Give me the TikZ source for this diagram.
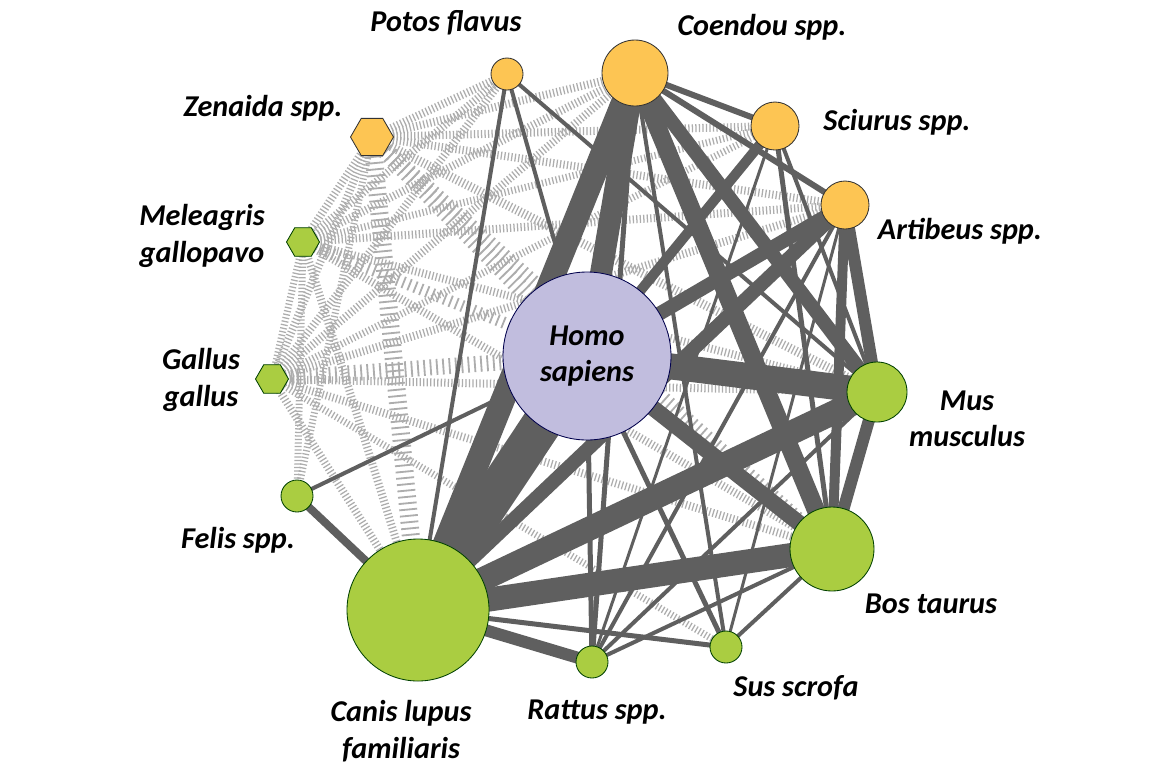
\documentclass[tikz,border=0pt]{standalone}
\usepackage{fontspec}
\setmainfont{Carlito}
\usepackage{tikz}
\newcommand*{\px}{0.025cm}
\usetikzlibrary{positioning}
\usetikzlibrary{shapes.geometric}
\usetikzlibrary{backgrounds}
\definecolor{wildOrange}{HTML}{FDC553}
\definecolor{domGreen}{HTML}{AACD41}
\definecolor{homoLilac}{HTML}{C1BDDE}
\definecolor{linkGray}{HTML}{5F5F5F}
\definecolor{hatchGray}{HTML}{ADADAD}
\tikzset{netstyle/.style={
    x=\px, y=-\px,% one unit is one pixel of the figure
    rad/.style={minimum size=2*##1*\px},% node radius in pixels
    species/.style={circle, inner sep=0pt, line width=0.6pt},
    wild/.style={species, draw=black!80, fill=wildOrange},
    domestic/.style={species, draw=green!25!black, fill=domGreen},
    human/.style={species, draw=blue!30!black, fill=homoLilac},
    bird/.style={regular polygon, regular polygon sides=6, inner sep=0pt,
      line width=0.6pt},
    taxon/.style={font=\bfseries\itshape\fontsize{21.5}{26}\selectfont,
      align=center},
    link/.style={draw=linkGray},
    hatch/.style={draw=hatchGray, dash pattern=on 0.9pt off 1.6pt},
    widehatch/.style={draw=hatchGray, dash pattern=on 1.3pt off 3.2pt}
  }
}

\begin{document}
\begin{tikzpicture}[netstyle]
    \useasboundingbox (0,0) rectangle (1165,765);

    % species
    \node[human, rad=84, taxon] (homo) at (587,356) {Homo\\sapiens};
    \node[wild, rad=16] (potos) at (507,74) {};
    \node[wild, rad=33] (coendou) at (635,73) {};
    \node[wild, rad=24] (sciurus) at (775,126) {};
    \node[wild, rad=24] (artibeus) at (845,205) {};
    \node[domestic, rad=30] (mus) at (877,392) {};
    \node[domestic, rad=42] (bos) at (832,549) {};
    \node[domestic, rad=16] (sus) at (726,647) {};
    \node[domestic, rad=16] (rattus) at (592,662) {};
    \node[domestic, rad=71] (canis) at (418,610) {};
    \node[domestic, rad=16] (felis) at (297,496) {};
    \node[bird, draw=green!25!black, fill=domGreen, minimum size=33*\px] (gallus) at (272,379) {};
    \node[bird, draw=green!25!black, fill=domGreen, minimum size=33*\px] (meleagris) at (303,242) {};
    \node[bird, draw=black!80, fill=wildOrange, minimum size=43*\px] (zenaida) at (372,137) {};

    % labels
    \node[taxon] (potosLbl) at (446,23) {Potos flavus};
    \node[taxon] (coendouLbl) at (762,27) {Coendou spp.};
    \node[taxon] (zenaidaLbl) at (263,108) {Zenaida spp.};
    \node[taxon] (sciurusLbl) at (897,122) {Sciurus spp.};
    \node[taxon] (meleagrisLbl) at (202,236) {Meleagris\\gallopavo};
    \node[taxon] (artibeusLbl) at (960,231) {Artibeus spp.};
    \node[taxon] (gallusLbl) at (201,380) {Gallus\\gallus};
    \node[taxon] (musLbl) at (967,419) {Mus\\musculus};
    \node[taxon] (felisLbl) at (238,540) {Felis spp.};
    \node[taxon] (bosLbl) at (931,604) {Bos taurus};
    \node[taxon] (susLbl) at (796,688) {Sus scrofa};
    \node[taxon] (rattusLbl) at (597,712) {Rattus spp.};
    \node[taxon] (canisLbl) at (401,731) {Canis lupus\\familiaris};

    \begin{scope}[on background layer]
    % bird links
    \foreach \a/\b/\w in {zenaida/potos/8, zenaida/coendou/8, zenaida/sciurus/8,
        zenaida/artibeus/8, zenaida/meleagris/8, zenaida/gallus/8,
        zenaida/mus/9, zenaida/felis/7, meleagris/potos/8, meleagris/gallus/7,
        meleagris/coendou/8, meleagris/sciurus/7, meleagris/artibeus/8,
        meleagris/mus/8, meleagris/bos/8, meleagris/canis/8, meleagris/felis/7,
        gallus/potos/8, gallus/coendou/8, gallus/sciurus/7, gallus/artibeus/8,
        gallus/mus/8, gallus/bos/8, gallus/canis/8, gallus/sus/7}
        \draw[hatch, line width=\w*\px] (\a.center) -- (\b.center);
    \foreach \a/\b/\w in {zenaida/canis/18, zenaida/homo/18, zenaida/bos/14,
        meleagris/homo/12, gallus/homo/16}
        \draw[widehatch, line width=\w*\px] (\a.center) -- (\b.center);
    % mammal links
    \foreach \a/\b/\w in {homo/canis/40, homo/coendou/22, homo/mus/26,
        homo/bos/16, homo/artibeus/14, homo/sciurus/10, homo/potos/4,
        homo/rattus/5, homo/sus/5, homo/felis/4,
        canis/coendou/24, canis/mus/24, canis/bos/24, canis/artibeus/14,
        canis/rattus/12, canis/sus/5, canis/felis/8, canis/potos/4,
        coendou/bos/18, coendou/mus/14, coendou/sciurus/6, coendou/artibeus/6,
        coendou/rattus/5, coendou/sus/4,
        sciurus/mus/4, sciurus/bos/5, sciurus/rattus/3,
        artibeus/mus/12, artibeus/bos/10, artibeus/rattus/4, artibeus/sus/3,
        mus/bos/12, mus/rattus/4, mus/potos/4,
        bos/rattus/4, bos/sus/4}
        \draw[link, line width=\w*\px] (\a.center) -- (\b.center);
    \end{scope}
\end{tikzpicture}
\end{document}
